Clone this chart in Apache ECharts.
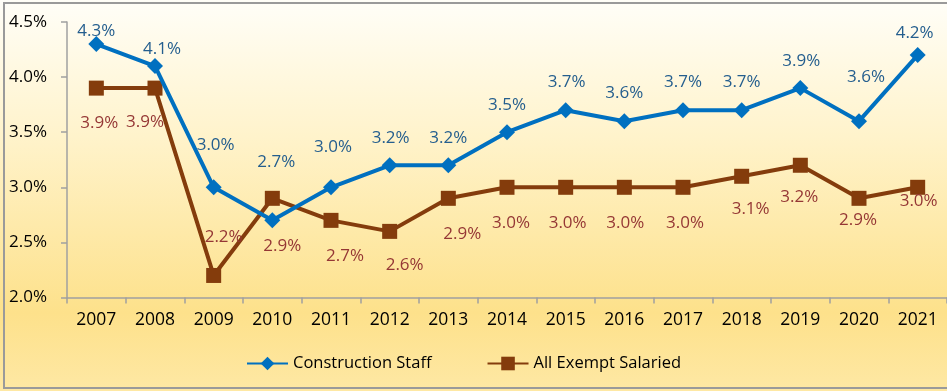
<!DOCTYPE html>
<html>
<head>
<meta charset="utf-8">
<script src="https://cdn.jsdelivr.net/npm/echarts@6/dist/echarts.min.js"></script>
<style>html,body{margin:0;padding:0;background:#fff}#c{width:947px;height:391px}</style>
</head>
<body>
<div id="c"></div>
<script>
var years = ['2007','2008','2009','2010','2011','2012','2013','2014','2015','2016','2017','2018','2019','2020','2021'];
var constructionStaff = [4.3,4.1,3.0,2.7,3.0,3.2,3.2,3.5,3.7,3.6,3.7,3.7,3.9,3.6,4.2];
var allExemptSalaried = [3.9,3.9,2.2,2.9,2.7,2.6,2.9,3.0,3.0,3.0,3.0,3.1,3.2,2.9,3.0];
var yTicks = [2.0,2.5,3.0,3.5,4.0,4.5];

// label placement (style only)
var constructionLabelOffset = [[0,-13],[7,-17],[2,-42],[4,-58],[2,-40],[1,-27],[0,-27],[0,-27],[1,-28],[0,-28],[0,-28],[0,-28],[1,-27],[7,-44],[-3,-22]];
var exemptLabelOffset = [[3,35],[-10,34],[10,-38],[10,48],[14,36],[15,34],[14,36],[4,36],[2,36],[1,36],[2,36],[9,33],[-1,32],[-1,22],[1,14]];

var FONT = 'Open Sans';
function items(vals, offs) {
  return vals.map(function (v, i) { return { value: v, label: { offset: offs[i] } }; });
}
var chart = echarts.init(document.getElementById('c'), null, { renderer: 'canvas' });
chart.setOption({
  animation: false,
  graphic: [
    { type: 'rect', z: -100, silent: true, shape: { x: 0, y: 0, width: 947, height: 391 },
      style: { fill: new echarts.graphic.LinearGradient(0, 0, 0, 1, [
        { offset: 0, color: '#FFFEF8' }, { offset: 0.35, color: '#FFF3CB' },
        { offset: 0.8, color: '#FDE18B' }, { offset: 1, color: '#FEE8A4' }]) } },
    { type: 'rect', z: 100, silent: true, shape: { x: 4, y: 3, width: 946, height: 385 },
      style: { fill: 'none', stroke: '#9A9A9A', lineWidth: 2 } }
  ],
  grid: { left: 67, right: 0, top: 22, bottom: 93.5, containLabel: false },
  legend: {
    left: 241, top: 350, itemWidth: 41, itemHeight: 17, itemGap: 55, itemTextGap: 3,
    textStyle: { fontFamily: FONT, fontSize: 16.5, color: '#000' },
    data: ['Construction Staff', 'All Exempt Salaried']
  },
  xAxis: {
    type: 'category', data: years, boundaryGap: true,
    axisLine: { lineStyle: { color: '#A0A0A0', width: 1.5 } },
    axisTick: { show: true, length: 6, alignWithLabel: false, lineStyle: { color: '#A0A0A0', width: 1.5 } },
    axisLabel: { fontFamily: FONT, fontSize: 17.5, color: '#000', margin: 14 },
    splitLine: { show: false }
  },
  yAxis: {
    type: 'value', min: yTicks[0], max: yTicks[yTicks.length - 1], interval: 0.5,
    axisLine: { show: true, lineStyle: { color: '#A0A0A0', width: 1.5 } },
    axisTick: { show: true, length: 6, lineStyle: { color: '#A0A0A0', width: 1.5 } },
    axisLabel: { fontFamily: FONT, fontSize: 17, color: '#000', margin: 20,
      formatter: function (v) { return v.toFixed(1) + '%'; } },
    splitLine: { show: false }
  },
  series: [
    { name: 'Construction Staff', type: 'line', data: items(constructionStaff, constructionLabelOffset),
      symbol: 'diamond', symbolSize: 16, z: 4,
      lineStyle: { color: '#0070C0', width: 4 }, itemStyle: { color: '#0070C0' },
      label: { show: true, position: 'inside', fontFamily: FONT, fontSize: 17, color: '#245E8E',
        formatter: function (p) { return p.value.toFixed(1) + '%'; } } },
    { name: 'All Exempt Salaried', type: 'line', data: items(allExemptSalaried, exemptLabelOffset),
      symbol: 'rect', symbolSize: 15, z: 3,
      lineStyle: { color: '#843C0C', width: 4 }, itemStyle: { color: '#843C0C' },
      label: { show: true, position: 'inside', fontFamily: FONT, fontSize: 17, color: '#953735',
        formatter: function (p) { return p.value.toFixed(1) + '%'; } } }
  ]
});
</script>
</body>
</html>
